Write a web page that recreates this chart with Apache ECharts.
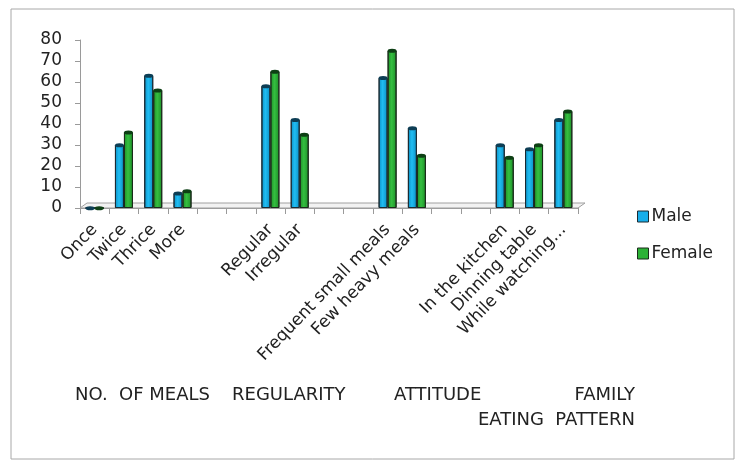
<!DOCTYPE html>
<html>
<head>
<meta charset="utf-8">
<script src="https://cdn.jsdelivr.net/npm/echarts@6/dist/echarts.min.js"></script>
<style>
  html, body { margin: 0; padding: 0; background: #fff; }
  #chart { width: 735px; height: 460px; }
</style>
</head>
<body>
<div id="chart"></div>
<script>
// Meal habits by gender (%), grouped into four blocks separated by empty slots
const categories = [
  'Once', 'Twice', 'Thrice', 'More', ' ', '  ',
  'Regular', 'Irregular', '   ', '    ',
  'Frequent small meals', 'Few heavy meals', '     ', '      ',
  'In the kitchen', 'Dinning table', 'While watching...'
];
const maleValues = [0, 30, 63, 7, null, null, 58, 42, null, null, 62, 38, null, null, 30, 28, 42];
const femaleValues = [0, 36, 56, 8, null, null, 65, 35, null, null, 75, 25, null, null, 24, 30, 46];
const yTicks = { min: 0, max: 80, interval: 10 };
const groupLabels = ['NO.  OF MEALS', 'REGULARITY', 'ATTITUDE', 'FAMILY', 'EATING  PATTERN'];

const chart = echarts.init(document.getElementById('chart'));

function cylinder(edge, mid) {
  return new echarts.graphic.LinearGradient(0, 0, 1, 0, [
    { offset: 0, color: edge },
    { offset: 0.45, color: mid },
    { offset: 1, color: edge }
  ]);
}

const BAR_W = 9;
const font = '"DejaVu Sans", Verdana, sans-serif';

chart.setOption({
  animation: false,
  backgroundColor: '#fff',
  grid: { left: 80, right: 157, top: 40, bottom: 252 },
  legend: {
    data: [
      { name: 'Male', itemStyle: { color: '#18aeea', borderColor: '#1b2b33', borderWidth: 1 } },
      { name: 'Female', itemStyle: { color: '#2cb236', borderColor: '#1b2b1b', borderWidth: 1 } }
    ],
    orient: 'vertical',
    left: 632,
    top: 203,
    itemWidth: 11,
    itemHeight: 11,
    itemGap: 20,
    icon: 'rect',
    textStyle: { fontSize: 17, color: '#222', fontFamily: font, padding: [0, 0, 0, -2] }
  },
  xAxis: {
    type: 'category',
    data: categories,
    axisLine: { lineStyle: { color: '#9a9a9a', width: 1 } },
    axisTick: { show: true, length: 6, lineStyle: { color: '#9a9a9a' } },
    axisLabel: {
      interval: 0, rotate: 46, fontSize: 17, color: '#222',
      fontFamily: font, margin: 19
    }
  },
  yAxis: {
    type: 'value',
    min: yTicks.min, max: yTicks.max, interval: yTicks.interval,
    splitLine: { show: false },
    axisLine: { show: true, lineStyle: { color: '#9a9a9a' } },
    axisTick: { show: true, length: 5, lineStyle: { color: '#9a9a9a' } },
    axisLabel: { fontSize: 17, color: '#222', fontFamily: font, margin: 18 }
  },
  series: [
    {
      name: 'Male', type: 'bar', data: maleValues,
      barWidth: BAR_W, barGap: '0%',
      itemStyle: { color: cylinder('#0a8fc4', '#21bdf2'), borderColor: '#1b2b33', borderWidth: 1 },
      z: 2
    },
    {
      name: 'Female', type: 'bar', data: femaleValues,
      barWidth: BAR_W, barGap: '0%',
      itemStyle: { color: cylinder('#1c8f27', '#35be40'), borderColor: '#1b2b1b', borderWidth: 1 },
      z: 2
    },
    {
      name: 'Male top', type: 'pictorialBar', data: maleValues,
      barWidth: BAR_W, barGap: '0%',
      symbol: 'circle', symbolSize: [BAR_W, 4], symbolPosition: 'end',
      symbolOffset: [0, '-50%'],
      itemStyle: { color: '#0d3e55', borderColor: '#111', borderWidth: 0.5 },
      z: 3, legendHoverLink: false
    },
    {
      name: 'Female top', type: 'pictorialBar', data: femaleValues,
      barWidth: BAR_W, barGap: '0%',
      symbol: 'circle', symbolSize: [BAR_W, 4], symbolPosition: 'end',
      symbolOffset: [0, '-50%'],
      itemStyle: { color: '#0d3f14', borderColor: '#111', borderWidth: 0.5 },
      z: 3, legendHoverLink: false
    }
  ]
});

// Floor under the bars and outer frame, placed from the axis scales
const p0 = chart.convertToPixel({ xAxisIndex: 0, yAxisIndex: 0 }, [0, 0]);
const step = chart.convertToPixel({ xAxisIndex: 0 }, 1) - chart.convertToPixel({ xAxisIndex: 0 }, 0);
const xLeft = p0[0] - step / 2;
const xRight = chart.convertToPixel({ xAxisIndex: 0 }, categories.length - 1) + step / 2;
const y0 = p0[1];
const dx = 7, dy = 5;

const textItem = (t, x, y, align) => ({
  type: 'text', x: x, y: y,
  style: { text: t, fill: '#222', font: '18px ' + font, textAlign: align, textVerticalAlign: 'middle' }
});

chart.setOption({
  graphic: [
    {
      type: 'rect', shape: { x: 11, y: 9, width: 723, height: 450 },
      style: { fill: 'none', stroke: '#a8a8a8', lineWidth: 1 }, silent: true, z: 0
    },
    {
      type: 'polygon',
      shape: { points: [[xLeft, y0], [xRight, y0], [xRight + dx, y0 - dy], [xLeft + dx, y0 - dy]] },
      style: { fill: '#f2f2f2', stroke: '#a0a0a0', lineWidth: 1 }, z: 1, silent: true
    },
    textItem(groupLabels[0], 75, 395, 'left'),
    textItem(groupLabels[1], 232, 395, 'left'),
    textItem(groupLabels[2], 394, 395, 'left'),
    textItem(groupLabels[3], 635, 395, 'right'),
    textItem(groupLabels[4], 635, 420, 'right')
  ]
});
</script>
</body>
</html>
